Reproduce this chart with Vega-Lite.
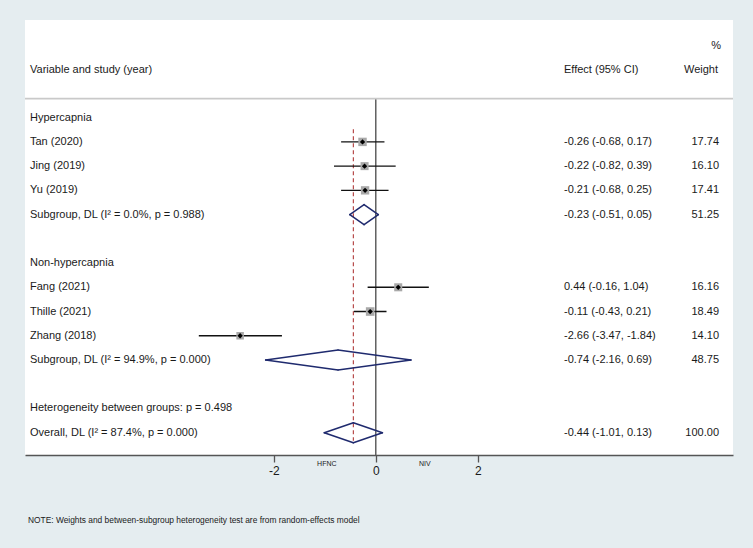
{
  "$schema": "https://vega.github.io/schema/vega-lite/v6.json",
  "width": 708,
  "height": 435,
  "autosize": {"type": "none"},
  "padding": {"left": 25, "top": 20, "right": 20, "bottom": 93},
  "background": "#e5edf0",
  "config": {
    "view": {"stroke": null, "fill": "white"},
    "text": {"font": "Liberation Sans", "fontSize": 11, "color": "#1a1a1a", "baseline": "middle"},
    "axis": {"labelFont": "Liberation Sans"}
  },
  "datasets": {
    "rows": [
      {"row": 1, "label": "Hypercapnia", "type": "group"},
      {"row": 2, "label": "Tan (2020)", "type": "study", "est": -0.26, "lo": -0.68, "hi": 0.17, "effect": "-0.26 (-0.68, 0.17)", "weight": 17.74},
      {"row": 3, "label": "Jing (2019)", "type": "study", "est": -0.22, "lo": -0.82, "hi": 0.39, "effect": "-0.22 (-0.82, 0.39)", "weight": 16.10},
      {"row": 4, "label": "Yu (2019)", "type": "study", "est": -0.21, "lo": -0.68, "hi": 0.25, "effect": "-0.21 (-0.68, 0.25)", "weight": 17.41},
      {"row": 5, "label": "Subgroup, DL (I² = 0.0%, p = 0.988)", "type": "pooled", "est": -0.23, "lo": -0.51, "hi": 0.05, "effect": "-0.23 (-0.51, 0.05)", "weight": 51.25},
      {"row": 7, "label": "Non-hypercapnia", "type": "group"},
      {"row": 8, "label": "Fang (2021)", "type": "study", "est": 0.44, "lo": -0.16, "hi": 1.04, "effect": "0.44 (-0.16, 1.04)", "weight": 16.16},
      {"row": 9, "label": "Thille (2021)", "type": "study", "est": -0.11, "lo": -0.43, "hi": 0.21, "effect": "-0.11 (-0.43, 0.21)", "weight": 18.49},
      {"row": 10, "label": "Zhang (2018)", "type": "study", "est": -2.66, "lo": -3.47, "hi": -1.84, "effect": "-2.66 (-3.47, -1.84)", "weight": 14.10},
      {"row": 11, "label": "Subgroup, DL (I² = 94.9%, p = 0.000)", "type": "pooled", "est": -0.74, "lo": -2.16, "hi": 0.69, "effect": "-0.74 (-2.16, 0.69)", "weight": 48.75},
      {"row": 13, "label": "Heterogeneity between groups: p = 0.498", "type": "het"},
      {"row": 14, "label": "Overall, DL (I² = 87.4%, p = 0.000)", "type": "overall", "est": -0.44, "lo": -1.01, "hi": 0.13, "effect": "-0.44 (-1.01, 0.13)", "weight": 100.00}
    ]
  },
  "data": {"name": "rows"},
  "layer": [
    {
      "data": {"values": [{"t": 1}]},
      "mark": {"type": "rule", "color": "#555555", "strokeWidth": 1.4},
      "encoding": {
        "x": {"datum": 0, "type": "quantitative", "scale": {"domain": [-6.878, 7.004], "nice": false, "zero": false}, "axis": {"values": [-2, 0, 2], "labelExpr": "'' + datum.value", "title": null, "grid": false, "domainColor": "#555555", "domainWidth": 1.4, "tickColor": "#555555", "tickWidth": 1.3, "tickSize": 7, "labelFontSize": 12, "labelColor": "#1a1a1a", "labelPadding": 3}},
        "y": {"datum": 0.216, "type": "quantitative", "scale": {"domain": [-3.03, 14.92], "nice": false, "zero": false, "reverse": true}, "axis": null},
        "y2": {"datum": 14.92}
      }
    },
    {
      "data": {"values": [{"t": 1}]},
      "mark": {"type": "rule", "color": "#c9c9c9", "strokeWidth": 1.6},
      "encoding": {"y": {"datum": 0.216, "type": "quantitative"}}
    },
    {
      "transform": [{"filter": "datum.type === 'overall'"}],
      "mark": {"type": "rule", "color": "#b03a3a", "strokeWidth": 1.1, "strokeDash": [4, 3]},
      "encoding": {
        "x": {"field": "est", "type": "quantitative"},
        "y": {"datum": 1.48, "type": "quantitative"},
        "y2": {"datum": 14.33}
      }
    },
    {
      "transform": [{"filter": "datum.type === 'study'"}],
      "mark": {"type": "rule", "color": "#111111", "strokeWidth": 1.4},
      "encoding": {
        "x": {"field": "lo", "type": "quantitative"},
        "x2": {"field": "hi"},
        "y": {"field": "row", "type": "quantitative"}
      }
    },
    {
      "transform": [{"filter": "datum.type === 'study'"}],
      "mark": {"type": "point", "shape": "square", "filled": true, "color": "#a9a9a9", "opacity": 1},
      "encoding": {
        "x": {"field": "est", "type": "quantitative"},
        "y": {"field": "row", "type": "quantitative"},
        "size": {"field": "weight", "type": "quantitative", "scale": {"type": "linear", "domain": [0, 20], "range": [0, 80]}, "legend": null}
      }
    },
    {
      "transform": [{"filter": "datum.type === 'study'"}],
      "mark": {"type": "point", "shape": "diamond", "filled": true, "color": "#000000", "size": 28, "opacity": 1},
      "encoding": {
        "x": {"field": "est", "type": "quantitative"},
        "y": {"field": "row", "type": "quantitative"}
      }
    },
    {
      "transform": [{"filter": "datum.type === 'pooled' || datum.type === 'overall'"}],
      "mark": {"type": "rule", "color": "#1f2a6e", "strokeWidth": 1.5, "strokeCap": "round", "y2Offset": -10},
      "encoding": {"x": {"field": "lo", "type": "quantitative"}, "x2": {"field": "est"}, "y": {"field": "row", "type": "quantitative"}, "y2": {"field": "row"}}
    },
    {
      "transform": [{"filter": "datum.type === 'pooled' || datum.type === 'overall'"}],
      "mark": {"type": "rule", "color": "#1f2a6e", "strokeWidth": 1.5, "strokeCap": "round", "y2Offset": 10},
      "encoding": {"x": {"field": "lo", "type": "quantitative"}, "x2": {"field": "est"}, "y": {"field": "row", "type": "quantitative"}, "y2": {"field": "row"}}
    },
    {
      "transform": [{"filter": "datum.type === 'pooled' || datum.type === 'overall'"}],
      "mark": {"type": "rule", "color": "#1f2a6e", "strokeWidth": 1.5, "strokeCap": "round", "yOffset": -10},
      "encoding": {"x": {"field": "est", "type": "quantitative"}, "x2": {"field": "hi"}, "y": {"field": "row", "type": "quantitative"}, "y2": {"field": "row"}}
    },
    {
      "transform": [{"filter": "datum.type === 'pooled' || datum.type === 'overall'"}],
      "mark": {"type": "rule", "color": "#1f2a6e", "strokeWidth": 1.5, "strokeCap": "round", "yOffset": 10},
      "encoding": {"x": {"field": "est", "type": "quantitative"}, "x2": {"field": "hi"}, "y": {"field": "row", "type": "quantitative"}, "y2": {"field": "row"}}
    },
    {
      "mark": {"type": "text", "align": "left"},
      "encoding": {
        "x": {"datum": -6.78, "type": "quantitative"},
        "y": {"field": "row", "type": "quantitative"},
        "text": {"field": "label", "type": "nominal"}
      }
    },
    {
      "transform": [{"filter": "isValid(datum.effect)"}],
      "mark": {"type": "text", "align": "left"},
      "encoding": {
        "x": {"datum": 3.69, "type": "quantitative"},
        "y": {"field": "row", "type": "quantitative"},
        "text": {"field": "effect", "type": "nominal"}
      }
    },
    {
      "transform": [{"filter": "isValid(datum.weight)"}],
      "mark": {"type": "text", "align": "right"},
      "encoding": {
        "x": {"datum": 6.73, "type": "quantitative"},
        "y": {"field": "row", "type": "quantitative"},
        "text": {"field": "weight", "type": "quantitative", "format": ".2f"}
      }
    },
    {
      "data": {"values": [{"t": "Variable and study (year)"}]},
      "mark": {"type": "text", "align": "left"},
      "encoding": {"x": {"datum": -6.78, "type": "quantitative"}, "y": {"datum": -0.97, "type": "quantitative"}, "text": {"field": "t", "type": "nominal"}}
    },
    {
      "data": {"values": [{"t": "Effect (95% CI)"}]},
      "mark": {"type": "text", "align": "left"},
      "encoding": {"x": {"datum": 3.69, "type": "quantitative"}, "y": {"datum": -0.97, "type": "quantitative"}, "text": {"field": "t", "type": "nominal"}}
    },
    {
      "data": {"values": [{"t": "Weight"}]},
      "mark": {"type": "text", "align": "right"},
      "encoding": {"x": {"datum": 6.71, "type": "quantitative"}, "y": {"datum": -0.97, "type": "quantitative"}, "text": {"field": "t", "type": "nominal"}}
    },
    {
      "data": {"values": [{"t": "%"}]},
      "mark": {"type": "text", "align": "right"},
      "encoding": {"x": {"datum": 6.77, "type": "quantitative"}, "y": {"datum": -1.95, "type": "quantitative"}, "text": {"field": "t", "type": "nominal"}}
    },
    {
      "data": {"values": [{"t": "HFNC", "side": -0.96}, {"t": "NIV", "side": 0.96}]},
      "mark": {"type": "text", "align": "center", "fontSize": 7},
      "encoding": {"x": {"field": "side", "type": "quantitative"}, "y": {"datum": 15.29, "type": "quantitative"}, "text": {"field": "t", "type": "nominal"}}
    },
    {
      "data": {"values": [{"t": "NOTE: Weights and between-subgroup heterogeneity test are from random-effects model"}]},
      "mark": {"type": "text", "align": "left", "fontSize": 8.4},
      "encoding": {"x": {"datum": -6.82, "type": "quantitative"}, "y": {"datum": 17.6, "type": "quantitative"}, "text": {"field": "t", "type": "nominal"}}
    }
  ]
}
